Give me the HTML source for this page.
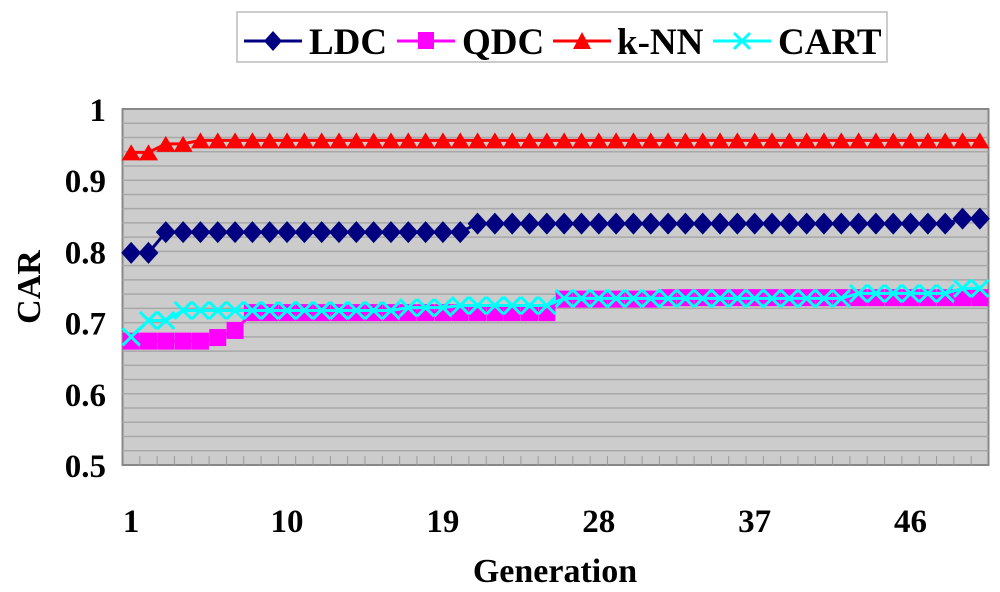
<!DOCTYPE html>
<html><head><meta charset="utf-8"><style>
html,body{margin:0;padding:0;background:#fff;}
svg{display:block;font-family:"Liberation Serif",serif;font-weight:bold;}
</style></head><body>
<svg id="chart" width="1000" height="592">
<rect x="122.5" y="109" width="866" height="356" fill="#cccccc" stroke="#888" stroke-width="2"/>
<g id="grid"></g><g id="ticks"></g><g id="series"></g>
<text transform="translate(40,287) rotate(-90)" text-anchor="middle" font-size="34">CAR</text>
<text x="555" y="582" text-anchor="middle" font-size="34">Generation</text>
<g>
<rect x="237" y="12" width="650" height="50" fill="#fff" stroke="#bbb" stroke-width="1.5"/>
<g><line x1="244" y1="41" x2="302" y2="41" stroke="#000080" stroke-width="3"/><path d="M273 31 L282 41 L273 51 L264 41Z" fill="#000080"/><text x="309" y="54" font-size="37">LDC</text></g>
<g><line x1="397" y1="41" x2="455" y2="41" stroke="#ff00ff" stroke-width="3"/><rect x="418" y="32" width="16" height="17" fill="#ff00ff"/><text x="462" y="54" font-size="37">QDC</text></g>
<g><line x1="553" y1="41" x2="611" y2="41" stroke="#ff0000" stroke-width="3"/><path d="M582 32 L591 49 L573 49Z" fill="#ff0000"/><text x="617" y="54" font-size="37">k-NN</text></g>
<g><line x1="713" y1="41" x2="771" y2="41" stroke="#00ffff" stroke-width="3"/><path d="M734 33 L750 49 M750 33 L734 49" stroke="#00ffff" stroke-width="3"/><text x="778" y="54" font-size="37">CART</text></g>
</g>
</svg>
<script>
const ldc=[0.798,0.798,0.827,0.827,0.827,0.827,0.827,0.827,0.827,0.827,0.827,0.827,0.827,0.827,0.827,0.827,0.827,0.827,0.827,0.827,0.839,0.839,0.839,0.839,0.839,0.839,0.839,0.839,0.839,0.839,0.839,0.839,0.839,0.839,0.839,0.839,0.839,0.839,0.839,0.839,0.839,0.839,0.839,0.839,0.839,0.839,0.839,0.839,0.846,0.846];
const qdc=[0.674,0.674,0.674,0.674,0.674,0.679,0.689,0.714,0.714,0.714,0.714,0.714,0.714,0.714,0.714,0.714,0.714,0.714,0.714,0.714,0.714,0.714,0.714,0.714,0.714,0.733,0.733,0.733,0.733,0.733,0.733,0.735,0.735,0.735,0.735,0.735,0.735,0.735,0.735,0.735,0.735,0.735,0.735,0.735,0.735,0.735,0.735,0.735,0.735,0.735];
const knn=[0.939,0.939,0.951,0.951,0.956,0.956,0.956,0.956,0.956,0.956,0.956,0.956,0.956,0.956,0.956,0.956,0.956,0.956,0.956,0.956,0.956,0.956,0.956,0.956,0.956,0.956,0.956,0.956,0.956,0.956,0.956,0.956,0.956,0.956,0.956,0.956,0.956,0.956,0.956,0.956,0.956,0.956,0.956,0.956,0.956,0.956,0.956,0.956,0.956,0.956];
const cart=[0.680,0.703,0.703,0.717,0.717,0.717,0.717,0.717,0.717,0.717,0.717,0.717,0.717,0.717,0.717,0.717,0.721,0.721,0.721,0.724,0.724,0.724,0.724,0.724,0.724,0.734,0.734,0.734,0.734,0.734,0.734,0.734,0.734,0.734,0.734,0.734,0.734,0.734,0.734,0.734,0.734,0.734,0.741,0.741,0.741,0.741,0.741,0.741,0.748,0.748];
const yTicks=[0.5,0.6,0.7,0.8,0.9,1];
const yTickLabels=["0.5","0.6","0.7","0.8","0.9","1"];
const xTickLabels=["1","10","19","28","37","46"];
const NS="http://www.w3.org/2000/svg";
const L=122.5,R=988.5,T=109,B=465,N=ldc.length,step=(R-L)/N;
const x=i=>L+step*(i+0.5);
const y=v=>B-(v-0.5)/0.5*(B-T);
function mk(tag,attrs,parent){const e=document.createElementNS(NS,tag);for(const k in attrs)e.setAttribute(k,attrs[k]);parent.appendChild(e);return e;}
const grid=document.getElementById('grid'),ticks=document.getElementById('ticks'),ser=document.getElementById('series');
for(let v=0.52;v<0.999;v+=0.02){const g=mk('line',{x1:L,x2:R,y1:y(v),y2:y(v),stroke:'#a8a8a8','stroke-width':1.5},grid);

}
yTicks.forEach((v,i)=>{const t=mk('text',{x:106,y:y(v)+12,'text-anchor':'end','font-size':33},ticks);t.textContent=yTickLabels[i];

});
for(let k=1;k<N;k++){const t=mk('line',{x1:L+k*step,x2:L+k*step,y1:B,y2:B-9,stroke:'#999','stroke-width':1},ticks);

}
xTickLabels.forEach(s=>{const i=parseInt(s)-1;const t=mk('text',{x:x(i),y:532,'text-anchor':'middle','font-size':33},ticks);t.textContent=s;

});
function series(data,color,name,marker){const g=mk('g',{},ser);


mk('polyline',{points:data.map((v,i)=>x(i)+','+y(v)).join(' '),fill:'none',stroke:color,'stroke-width':3},g);
data.forEach((v,i)=>{const cx=x(i),cy=y(v);let m;
if(marker==='d')m=mk('path',{d:`M${cx} ${cy-11}L${cx+10} ${cy}L${cx} ${cy+11}L${cx-10} ${cy}Z`,fill:color},g);
else if(marker==='s')m=mk('rect',{x:cx-8.5,y:cy-8.5,width:17,height:17,fill:color},g);
else if(marker==='t')m=mk('path',{d:`M${cx} ${cy-8}L${cx+9.5} ${cy+8}L${cx-9.5} ${cy+8}Z`,fill:color},g);
else m=mk('path',{d:`M${cx-8.5} ${cy-8.5}L${cx+8.5} ${cy+8.5}M${cx+8.5} ${cy-8.5}L${cx-8.5} ${cy+8.5}`,stroke:color,'stroke-width':3,fill:'none'},g);

});}
series(knn,'#ff0000','knn','t');
series(ldc,'#000080','ldc','d');
series(qdc,'#ff00ff','qdc','s');
series(cart,'#00ffff','cart','x');
</script>
</body></html>
